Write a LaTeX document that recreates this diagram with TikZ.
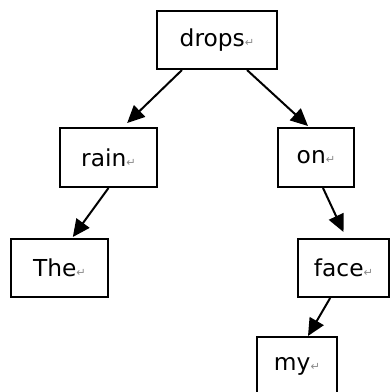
\documentclass[tikz,border=0pt]{standalone}
\usepackage{fontspec}
\setmainfont{DejaVu Sans}
\usetikzlibrary{arrows.meta}
\newcommand{\parmark}{{\color{black!45}\fontsize{8.5}{8.5}\selectfont ↵}}
\begin{document}
\begin{tikzpicture}[x=0.75pt, y=-0.75pt,
    word/.style={draw, line width=1.5pt, inner sep=0pt, font=\fontsize{17.5}{20}\selectfont},
    link/.style={line width=1.5pt, -{Triangle[length=13pt, width=12pt]}}]
        \useasboundingbox (0, 0) rectangle (390, 392);

        %caixas
        \node[word, minimum width=90pt, minimum height=43.5pt] (drops) at (217, 40) {drops\parmark};
        \node[word, minimum width=72.75pt, minimum height=44.25pt] (rain) at (108.5, 157.5) {rain\parmark};
        \node[word, minimum width=57pt, minimum height=44.25pt] (on) at (316, 157.5) {on\parmark};
        \node[word, minimum width=72.75pt, minimum height=43.5pt] (The) at (59.5, 268) {The\parmark};
        \node[word, minimum width=68.25pt, minimum height=43.5pt] (face) at (343.5, 268) {face\parmark};
        \node[word, minimum width=60pt, minimum height=43.5pt] (my) at (297, 366) {my\parmark};

        %flechas
        \draw[link] ([xshift=-26.25pt]drops.south) -- ([xshift=14pt, yshift=3pt]rain.north);
        \draw[link] ([xshift=22.5pt]drops.south) -- ([xshift=-6pt, yshift=0.75pt]on.north);
        \draw[link] (rain.south) -- ([xshift=10pt, yshift=0.75pt]The.north);
        \draw[link] ([xshift=5.25pt]on.south) -- ([yshift=4.5pt]face.north);
        \draw[link] ([xshift=-10pt]face.south) -- ([xshift=8.25pt]my.north);

\end{tikzpicture}
\end{document}
